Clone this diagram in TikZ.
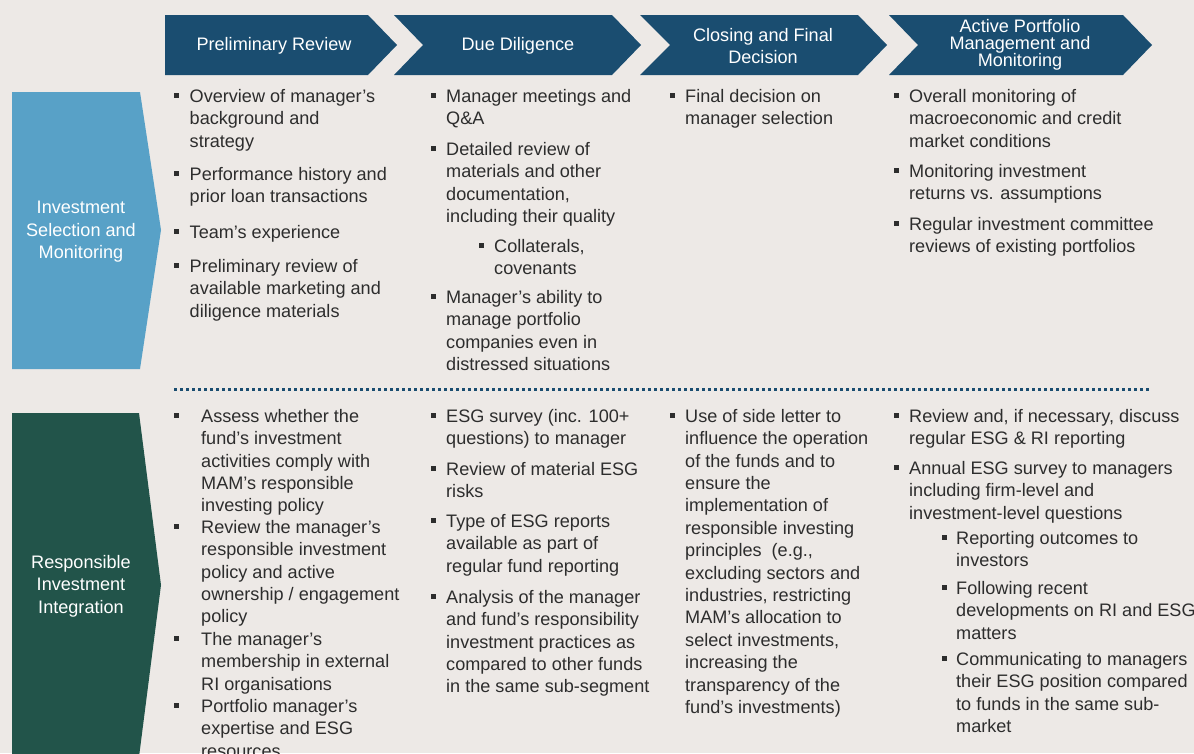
\documentclass[tikz,border=0pt]{standalone}
\usepackage{fontspec}
\setmainfont{Liberation Sans}
\usepackage{xcolor}
\usepackage{tikz}

\definecolor{bg}{RGB}{237,233,230}
\definecolor{headblue}{RGB}{26,77,112}
\definecolor{lightblue}{RGB}{88,161,199}
\definecolor{darkgreen}{RGB}{34,84,74}
\definecolor{textgray}{RGB}{45,45,45}

\tikzset{
  bodyfont/.style={font=\fontsize{18.1}{22.4}\selectfont},
  itemtxt/.style={bodyfont, text=textgray, anchor=north west, inner sep=0pt, align=left},
  bul/.style={fill=textgray, inner sep=0pt, minimum size=5pt},
  headtxt/.style={bodyfont, text=white, align=center, inner sep=0pt},
  sidetxt/.style={bodyfont, text=white, align=center, inner sep=0pt},
}

% name, bullet x, text x, first baseline, lines
\newcommand{\pitem}[5]{%
  \node[bul] (#1b) at (#2,#4-6.7) {};
  \node[itemtxt] (#1) at (#3,#4-15.68) {\strut #5};
}

\begin{document}
\begin{tikzpicture}[x=1pt,y=-1pt]
\useasboundingbox (0,0) rectangle (1194,753);
\fill[bg] (0,0) rectangle (1194,753);

% stage chevrons
\fill[headblue] (165,15) -- (368,15) -- (397,45) -- (368,75) -- (165,75) -- cycle;
\fill[headblue] (394,15) -- (612,15) -- (641,45) -- (612,75) -- (394,75) -- (423,45) -- cycle;
\fill[headblue] (640,15) -- (858,15) -- (887,45) -- (858,75) -- (640,75) -- (670,45) -- cycle;
\fill[headblue] (889,15) -- (1123,15) -- (1152,45) -- (1123,75) -- (889,75) -- (918,45) -- cycle;
\node[headtxt] (h1) at (274,46) {Preliminary Review};
\node[headtxt] (h2) at (518,46) {Due Diligence};
\node[headtxt] (h3) at (763,46) {Closing and Final\\Decision};
\node[headtxt, font=\fontsize{18.1}{17}\selectfont] (h4) at (1020,44.5) {Active Portfolio\\Management and\\Monitoring};

% side labels
\fill[lightblue] (12,92) -- (140,92) -- (161,230) -- (140,369) -- (12,369) -- cycle;
\node[sidetxt] (sel) at (81,232) {Investment\\Selection and\\Monitoring};
\fill[darkgreen] (12,413) -- (139,413) -- (161,585) -- (139,757) -- (12,757) -- cycle;
\node[sidetxt] (rii) at (81,586) {Responsible\\Investment\\Integration};

% separator
\draw[headblue, line width=3pt, dash pattern=on 3pt off 3pt] (174,389) -- (1150,389);

% investment selection and monitoring
\pitem{pa}{176}{189.5}{102}{Overview of manager's\\background and\\strategy}
\pitem{pb}{176}{189.5}{180}{Performance history and\\prior loan transactions}
\pitem{pc}{176}{189.5}{238}{Team's experience}
\pitem{pd}{176}{189.5}{272}{Preliminary review of\\available marketing and\\diligence materials}

\pitem{da}{433}{446}{102}{Manager meetings and\\Q\&A}
\pitem{db}{433}{446}{155}{Detailed review of\\materials and other\\documentation,\\including their quality}
\pitem{dc}{481}{494}{252}{Collaterals,\\covenants}
\pitem{dd}{433}{446}{303}{Manager's ability to\\manage portfolio\\companies even in\\distressed situations}

\pitem{ca}{672}{685}{102}{Final decision on\\manager selection}

\pitem{aa}{896}{909}{102}{Overall monitoring of\\macroeconomic and credit\\market conditions}
\pitem{ab}{896}{909}{177}{Monitoring investment\\returns vs. assumptions}
\pitem{ac}{896}{909}{230}{Regular investment committee\\reviews of existing portfolios}

% responsible investment integration
\pitem{ra}{176}{201}{422}{Assess whether the\\fund's investment\\activities comply with\\MAM's responsible\\investing policy}
\pitem{rb}{176}{201}{533}{Review the manager's\\responsible investment\\policy and active\\ownership / engagement\\policy}
\pitem{rc}{176}{201}{645}{The manager's\\membership in external\\RI organisations}
\pitem{rd}{176}{201}{712}{Portfolio manager's\\expertise and ESG\\resources}

\pitem{sa}{433}{446}{422}{ESG survey (inc. 100+\\questions) to manager}
\pitem{sb}{433}{446}{475}{Review of material ESG\\risks}
\pitem{sc}{433}{446}{527}{Type of ESG reports\\available as part of\\regular fund reporting}
\pitem{sd}{433}{446}{603}{Analysis of the manager\\and fund's responsibility\\investment practices as\\compared to other funds\\in the same sub-segment}

\pitem{ta}{672}{685}{422}{Use of side letter to\\influence the operation\\of the funds and to\\ensure the\\implementation of\\responsible investing\\principles~ (e.g.,\\excluding sectors and\\industries, restricting\\MAM's allocation to\\select investments,\\increasing the\\transparency of the\\fund's investments)}

\pitem{ua}{896}{909}{422}{Review and, if necessary, discuss\\regular ESG \& RI reporting}
\pitem{ub}{896}{909}{474}{Annual ESG survey to managers\\including firm-level and\\investment-level questions}
\pitem{uc}{944}{956}{544}{Reporting outcomes to\\investors}
\pitem{ud}{944}{956}{594}{Following recent\\developments on RI and ESG\\matters}
\pitem{ue}{944}{956}{665}{Communicating to managers\\their ESG position compared\\to funds in the same sub-\\market}
\end{tikzpicture}
\end{document}
